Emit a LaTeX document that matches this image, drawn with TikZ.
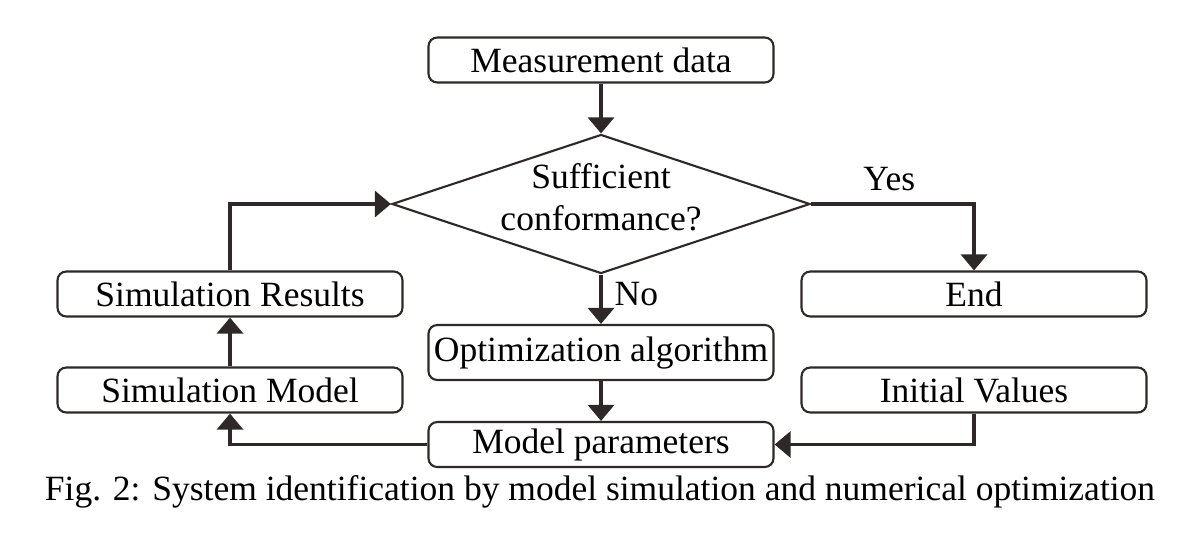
\documentclass[tikz,border=0pt]{standalone}
\usepackage{fontspec}
\setmainfont{Liberation Serif}
\usetikzlibrary{shapes.geometric, arrows.meta}
\definecolor{linec}{RGB}{46,40,40}
\begin{document}
\begin{tikzpicture}[font=\fontsize{10.1}{12}\selectfont]
    \tikzset{box/.style={draw=linec, line width=0.6pt, rounded corners=2.5pt, minimum width=3.45cm, minimum height=0.45cm, inner sep=1pt}};
    \tikzset{decision/.style={draw=linec, line width=0.6pt, diamond, aspect=3, inner sep=0pt, minimum width=4.18cm, minimum height=1.39cm}};
    \tikzset{flow/.style={draw=linec, line width=1.1pt, -{Triangle[length=4.6pt, width=7.4pt]}}};

    \useasboundingbox (0, 0) rectangle (11.9, -5.36);

    % Top
    \path (6.01, -0.60) node [box] (meas) {Measurement data};
    \path (6.01, -2.04) node [decision] (chk) {};
    \path (6.01, -1.97) node [align=center] (chktxt) {Sufficient\\conformance?};

    % Middle row
    \path (2.30, -2.94) node [box] (res) {Simulation Results};
    \path (9.74, -2.94) node [box] (fin) {End};
    \path (6.01, -3.525) node [box, minimum height=0.55cm] (opt) {Optimization algorithm};

    % Bottom row
    \path (2.30, -3.90) node [box] (mdl) {Simulation Model};
    \path (9.74, -3.90) node [box] (init) {Initial Values};
    \path (6.01, -4.445) node [box] (par) {Model parameters};

    % Caption
    \path (6.00, -4.92) node (cap) {Fig. 2: System identification by model simulation and numerical optimization};

    % Edges
    \foreach \a/\b in {meas/chk, opt/par, mdl/res} { \draw[flow] (\a) -- (\b); }
    \draw[flow] (res.north) |- (chk.west);
    \draw[flow] (chk.east) -| node [pos=0.24, above] {Yes} (fin.north);
    \draw[flow] (chk.south) -- node [right, pos=0.4] {No} (opt.north);
    \draw[flow] (init.south) |- (par.east);
    \draw[flow] (par.west) -| (mdl.south);
  \end{tikzpicture}
\end{document}
